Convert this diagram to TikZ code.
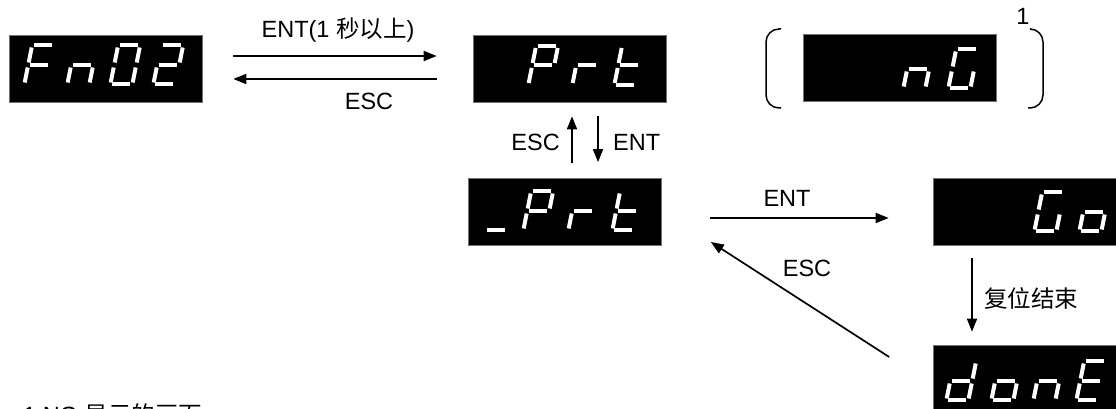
\documentclass[tikz,border=0pt]{standalone}
\usepackage{fontspec}
\setmainfont{Liberation Sans}
\newfontfamily\cjk{Noto Sans CJK SC}
\usetikzlibrary{arrows.meta}

\tikzset{
	disp/.style={fill=black, draw=black!55, line width=0.6pt, inner sep=0pt,
			minimum width=193pt, minimum height=67pt},
	segline/.style={white, line width=4pt},
	arr/.style={line width=1.7pt, -{Triangle[length=13pt,width=10pt]}},
	lbl/.style={font=\fontsize{23.5}{28}\selectfont, inner sep=0pt},
	brk/.style={line width=1.5pt, rounded corners=13pt},
}

% the seven segments of one lcd digit, origin at its lower left corner
\newcommand{\lcdsega}{\draw[segline] (4,40.5) -- (22,40.5);}
\newcommand{\lcdsegb}{\draw[segline] (24,23.5) -- (24,38.5);}
\newcommand{\lcdsegc}{\draw[segline] (24,3.5) -- (24,18.5);}
\newcommand{\lcdsegd}{\draw[segline] (4,1.5) -- (22,1.5);}
\newcommand{\lcdsege}{\draw[segline] (2,3.5) -- (2,18.5);}
\newcommand{\lcdsegf}{\draw[segline] (2,23.5) -- (2,38.5);}
\newcommand{\lcdsegg}{\draw[segline] (4,21) -- (22,21);}
\newcommand{\lcddigit}[3]{%
	\begin{scope}[shift={(#1,#2)}, xslant=0.2]
		\foreach \s in {#3} {\csname lcdseg\s\endcsname}
	\end{scope}}

\begin{document}
\begin{tikzpicture}[x=1pt, y=1pt]
	\useasboundingbox (0,0) rectangle (1116,409);

	% display panels
	\node[disp] (fn) at (105.5,340.5) {};
	\node[disp] (prt) at (569.5,340.5) {};
	\node[disp] (ng) at (899.5,341) {};
	\node[disp] (uprt) at (565,197) {};
	\node[disp, minimum width=207pt] (go) at (1036.5,197) {};
	\node[disp, minimum width=207pt, minimum height=74pt] (done) at (1037,27) {};

	% Fn02
	\lcddigit{22}{323}{a,e,f,g}
	\lcddigit{65}{323}{c,e,g}
	\lcddigit{108}{323}{a,b,c,d,e,f}
	\lcddigit{151}{323}{a,b,d,e,g}
	% Prt
	\lcddigit{526}{322.5}{a,b,e,f,g}
	\lcddigit{570}{322.5}{e,g}
	\lcddigit{612}{322.5}{d,e,f,g}
	% nG
	\lcddigit{901}{319}{c,e,g}
	\lcddigit{946}{319}{a,c,d,e,f}
	% _Prt
	\lcddigit{483}{177}{d}
	\lcddigit{521}{177}{a,b,e,f,g}
	\lcddigit{566}{177}{e,g}
	\lcddigit{610}{177}{d,e,f,g}
	% Go
	\lcddigit{1032}{176}{a,c,d,e,f}
	\lcddigit{1077}{176}{c,d,e,g}
	% donE
	\lcddigit{944}{7}{b,c,d,e,g}
	\lcddigit{989}{7}{c,d,e,g}
	\lcddigit{1031}{7}{c,e,g}
	\lcddigit{1074}{7}{a,d,e,f,g}

	% brackets round the ng panel
	\draw[brk] (781,380) -- (766,380) -- (766,301) -- (781,301);
	\draw[brk] (1031,380) -- (1043,380) -- (1043,301) -- (1028,301);
	\node[lbl, anchor=base] (one) at (1023,384) {1};

	% transitions
	\draw[arr] ([shift={(31,12.5)}]fn.east) -- ([shift={(-36,12.5)}]prt.west);
	\draw[arr] ([shift={(-36,-10.5)}]prt.west) -- ([shift={(31,-10.5)}]fn.east);
	\draw[arr] ([shift={(7,15)}]uprt.north) -- ([shift={(2.5,-14)}]prt.south);
	\draw[arr] ([shift={(28.5,-14)}]prt.south) -- ([shift={(33,16)}]uprt.north);
	\draw[arr] ([shift={(48,-6)}]uprt.east) -- ([shift={(-44,-6)}]go.west);
	\draw[arr] ([shift={(-44,25)}]done.west) -- ([shift={(49,-30)}]uprt.east);
	\draw[arr] ([shift={(-64.5,-12)}]go.south) -- ([shift={(-65,13)}]done.north);

	% labels
	\node[lbl, anchor=base] (entlong) at (338,371) {ENT(1 {\cjk 秒以上})};
	\node[lbl, anchor=base] (escback) at (369,299) {ESC};
	\node[lbl, anchor=base east] (escup) at (560,258) {ESC};
	\node[lbl, anchor=base west] (entdown) at (613,258) {ENT};
	\node[lbl, anchor=base] (entgo) at (787,202) {ENT};
	\node[lbl, anchor=base] (escdone) at (807,132) {ESC};
	\node[lbl, anchor=west] (resetend) at (984,111) {\cjk 复位结束};

	% note line, cut by the lower edge
	\node[lbl, anchor=base west] (note) at (23,-15) {1 NG {\cjk 显示的画面}};
\end{tikzpicture}
\end{document}
